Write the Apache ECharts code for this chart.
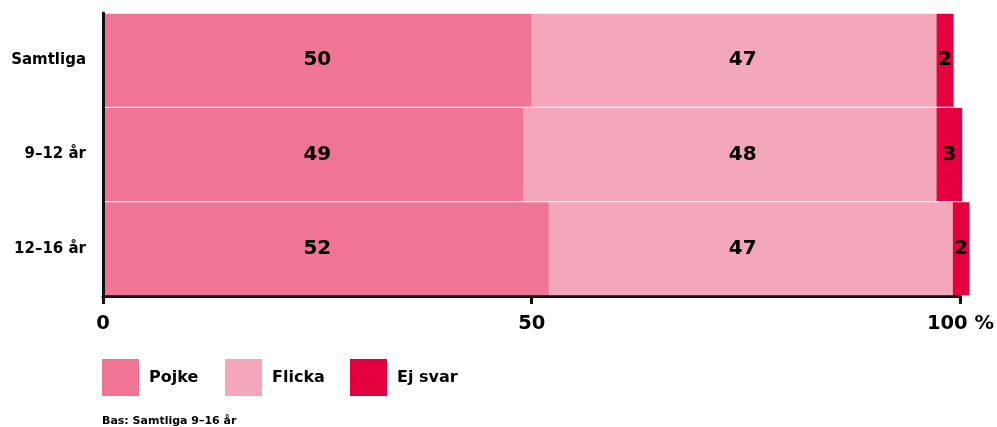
<!DOCTYPE html>
<html><head><meta charset="utf-8">
<script src="https://cdn.jsdelivr.net/npm/echarts@6/dist/echarts.min.js"></script>
<style>html,body{margin:0;padding:0;background:#fff}#c{width:997px;height:427px}</style>
</head><body><div id="c"></div>
<script>
const categories = ['Samtliga', '9–12 år', '12–16 år'];
const pojke = [50.0, 49.0, 52.0];
const flicka = [47.2, 48.2, 47.1];
const ejSvar = [2.0, 3.0, 1.95];
const seriesNames = ['Pojke', 'Flicka', 'Ej svar'];
const colors = ['#F07595', '#F4A7BB', '#E4003E'];
const xTicks = [0, 50, 100];
const footnote = 'Bas: Samtliga 9–16 år';
// value positions where the original places the labels of the wide segments (null = segment centre)
const labelAnchors = [25, 74.6, null];

const FONT = '"DejaVu Sans", "Liberation Sans", sans-serif';
const INK = '#000';
const chart = echarts.init(document.getElementById('c'));
const dataSets = [pojke, flicka, ejSvar];
const legendLefts = [102, 225, 350];

function buildSeries(offsets) {
  return dataSets.map((d, i) => ({
    name: seriesNames[i], type: 'bar', stack: 'total',
    data: d.map((v, j) => ({ value: v, label: { offset: [offsets ? offsets[i][j] : 0, 0] } })),
    barCategoryGap: '1.5%', clip: false,
    itemStyle: { color: colors[i] },
    label: {
      show: true, position: 'inside', color: INK, fontWeight: 'bold', fontSize: 20, fontFamily: FONT,
      formatter: p => String(Math.round(p.value))
    }
  }));
}

chart.setOption({
  animation: false,
  textStyle: { fontFamily: FONT },
  grid: { left: 103, right: 36, top: 13, bottom: 131, containLabel: false },
  xAxis: {
    type: 'value', min: xTicks[0], max: xTicks[xTicks.length - 1], interval: xTicks[1] - xTicks[0],
    axisLine: { show: true, lineStyle: { color: '#111', width: 3 } },
    axisTick: { show: true, length: 8, lineStyle: { color: '#111', width: 3 } },
    splitLine: { show: false },
    axisLabel: {
      margin: 18, color: INK, fontWeight: 'bold', fontSize: 19.5, fontFamily: FONT,
      formatter: v => v === 100 ? '100 %' : String(v)
    }
  },
  yAxis: {
    type: 'category', data: categories, inverse: true, z: 5,
    axisLine: { show: true, lineStyle: { color: '#111', width: 3 } },
    axisTick: { show: false },
    axisLabel: { margin: 17, color: INK, fontWeight: 'bold', fontSize: 15, fontFamily: FONT }
  },
  legend: seriesNames.map((n, i) => ({
    left: legendLefts[i], top: 359, padding: 0,
    itemWidth: 37, itemHeight: 37, icon: 'rect', selectedMode: false,
    textStyle: { color: INK, fontWeight: 'bold', fontSize: 16, fontFamily: FONT, padding: [0, 0, 0, 5] },
    data: [n]
  })),
  graphic: [{
    type: 'text', left: 102, top: 416,
    style: { text: footnote, font: 'bold 11px ' + FONT, fill: INK }
  }],
  series: buildSeries(null)
});

// shift labels of wide segments to the original's fixed label positions
const offsets = dataSets.map((d, i) => d.map((v, j) => {
  if (labelAnchors[i] == null) return 0;
  let start = 0;
  for (let k = 0; k < i; k++) start += dataSets[k][j];
  const centre = start + v / 2;
  const pc = chart.convertToPixel({ xAxisIndex: 0 }, centre);
  const pa = chart.convertToPixel({ xAxisIndex: 0 }, labelAnchors[i]);
  return pa - pc;
}));
chart.setOption({ series: buildSeries(offsets) });
</script></body></html>
